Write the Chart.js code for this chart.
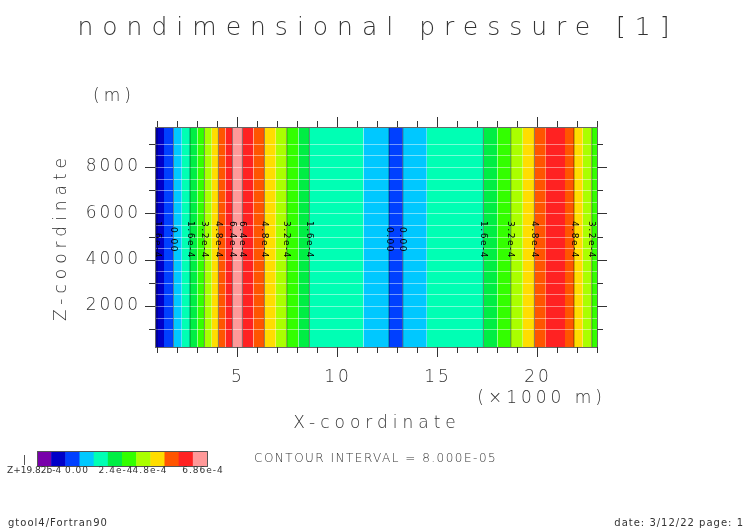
<!DOCTYPE html>
<html><head><meta charset="utf-8">
<script src="https://cdn.jsdelivr.net/npm/chart.js@4/dist/chart.umd.min.js"></script>
<style>html,body{margin:0;background:#fff}#c{width:752px;height:532px}</style>
</head><body><div id="c"><canvas id="cv" width="752" height="532"></canvas></div>
<script>
const palette = ['#7800aa','#0000c8','#0040ff','#00c8ff','#00ffb4','#00ee44','#33ff00','#aaff00','#ffdd00','#ff5500','#ff2222','#ff9999'];
const bandEdges = [0.9,1.35,1.82,2.24,2.65,3.02,3.37,3.74,4.07,4.42,4.77,5.27,5.82,6.37,6.94,7.49,8.07,8.62,11.32,12.6,13.29,14.49,17.32,18.02,18.69,19.29,19.87,20.44,21.4,21.85,22.29,22.74,23.0];
const bandLevel = [1,2,3,4,5,6,7,8,9,10,11,10,9,8,7,6,5,4,3,2,3,4,5,6,7,8,9,10,9,8,7,6];
const contourX = [1.0,1.82,2.65,3.37,4.07,4.77,5.27,6.37,7.49,8.62,12.6,13.29,17.32,18.69,19.87,21.85,22.74];
const contourLabel = ['1.6e-4','0.00','1.6e-4','3.2e-4','4.8e-4','6.4e-4','6.4e-4','4.8e-4','3.2e-4','1.6e-4','0.00','0.00','1.6e-4','3.2e-4','4.8e-4','4.8e-4','3.2e-4'];
const xMajor = [5,10,15,20];
const yMajor = [2000,4000,6000,8000];
const colorbarLabels = ['0.00','2.4e-4','4.8e-4','6.86e-4'];
const yMin = 230, yMax = 9730;

const datasets = bandLevel.map((lv,i)=>({
  data:[{x:bandEdges[i],y:yMax},{x:bandEdges[i+1],y:yMax}],
  backgroundColor:palette[lv], borderWidth:0, pointRadius:0, fill:'start', showLine:true
}));

function sp(ctx,t,x,y,ls){ctx.save();ctx.letterSpacing=ls+'px';ctx.fillText(t,x,y);ctx.restore();}

const deco = {
  id:'deco',
  afterDatasetsDraw(chart){
    const {ctx, chartArea:a, scales:{x,y}} = chart;
    ctx.save();
    ctx.strokeStyle='rgba(255,255,255,0.45)'; ctx.lineWidth=1;
    for(let v=1000; v<=9000; v+=500){const p=Math.round(y.getPixelForValue(v))+0.5; ctx.beginPath();ctx.moveTo(a.left,p);ctx.lineTo(a.right,p);ctx.stroke();}
    contourX.forEach((cx,i)=>{
      const p=x.getPixelForValue(cx);
      ctx.strokeStyle='rgba(0,0,0,0.45)'; ctx.beginPath();ctx.moveTo(p,a.top);ctx.lineTo(p,a.bottom);ctx.stroke();
      ctx.save(); ctx.translate(p,y.getPixelForValue(4850)); ctx.rotate(Math.PI/2);
      ctx.font='9px "DejaVu Sans"'; ctx.fillStyle='#000'; ctx.textAlign='center'; ctx.textBaseline='middle';
      ctx.letterSpacing='1.5px'; ctx.fillText(contourLabel[i],0,0); ctx.restore();
    });
    ctx.strokeStyle='#666'; ctx.lineWidth=1; ctx.strokeRect(a.left+0.5,a.top+0.5,a.right-a.left,a.bottom-a.top);
    ctx.strokeStyle='#333';
    for(let v=1;v<=23;v++){const p=Math.round(x.getPixelForValue(v))+0.5; if(p<a.left||p>a.right+1)continue; const L=v%5===0?10:6;
      ctx.beginPath();ctx.moveTo(p,a.bottom);ctx.lineTo(p,a.bottom+L);ctx.moveTo(p,a.top);ctx.lineTo(p,a.top-L);ctx.stroke();}
    for(let v=1000;v<=9000;v+=1000){const p=Math.round(y.getPixelForValue(v))+0.5; const L=v%2000===0?10:6;
      ctx.beginPath();ctx.moveTo(a.left,p);ctx.lineTo(a.left-L,p);ctx.moveTo(a.right,p);ctx.lineTo(a.right+L,p);ctx.stroke();}
    ctx.fillStyle='#333'; ctx.font='200 17px "DejaVu Sans"'; ctx.textAlign='center'; ctx.textBaseline='middle';
    xMajor.forEach(v=>sp(ctx,String(v),x.getPixelForValue(v)+1,378,3));
    ctx.textAlign='right';
    yMajor.forEach(v=>sp(ctx,String(v),a.left-14,y.getPixelForValue(v),3));
    ctx.textAlign='center';
    ctx.font='200 25px "DejaVu Sans"'; ctx.fillStyle='#333'; sp(ctx,'nondimensional pressure [1]',378,28,9);
    ctx.font='200 17px "DejaVu Sans"'; ctx.fillStyle='#333';
    sp(ctx,'(m)',114,97,4);
    sp(ctx,'X-coordinate',377,424,5);
    ctx.textAlign='right'; sp(ctx,'(×1000 m)',606,399,4);
    ctx.save(); ctx.translate(62,237); ctx.rotate(-Math.PI/2); ctx.textAlign='center'; sp(ctx,'Z-coordinate',0,0,5); ctx.restore();
    const cbx=37, cby=451, cw=170/12;
    palette.forEach((c,i)=>{ctx.fillStyle=c; ctx.fillRect(cbx+i*cw,cby,cw+0.5,15);});
    ctx.strokeStyle='#555'; ctx.strokeRect(cbx+0.5,cby+0.5,170,15);
    ctx.beginPath();ctx.moveTo(24.5,455);ctx.lineTo(24.5,465);ctx.stroke();
    ctx.fillStyle='#333'; ctx.font='9px "DejaVu Sans"'; ctx.textAlign='left';
    sp(ctx,'Z+19.82b-4',7,471,0);
    const cbPos=[77,116,150,203];
    ctx.textAlign='center';
    colorbarLabels.forEach((t,i)=>sp(ctx,t,cbPos[i],471,1));
    ctx.font='200 12px "DejaVu Sans"'; ctx.textAlign='left';
    sp(ctx,'CONTOUR INTERVAL = 8.000E-05',254,459,1.5);
    ctx.font='10px "DejaVu Sans"';
    sp(ctx,'gtool4/Fortran90',8,523,1);
    ctx.textAlign='right'; sp(ctx,'date: 3/12/22 page: 1',744,523,1);
    ctx.restore();
  }
};

new Chart(document.getElementById('cv'),{
  type:'scatter',
  data:{datasets},
  options:{
    responsive:false, animation:false, devicePixelRatio:1,
    layout:{padding:{left:155,right:155,top:127,bottom:185}},
    plugins:{legend:{display:false},tooltip:{enabled:false}},
    scales:{
      x:{type:'linear',min:0.9,max:23,display:false},
      y:{type:'linear',min:yMin,max:yMax,display:false}
    }
  },
  plugins:[deco]
});
</script></body></html>
